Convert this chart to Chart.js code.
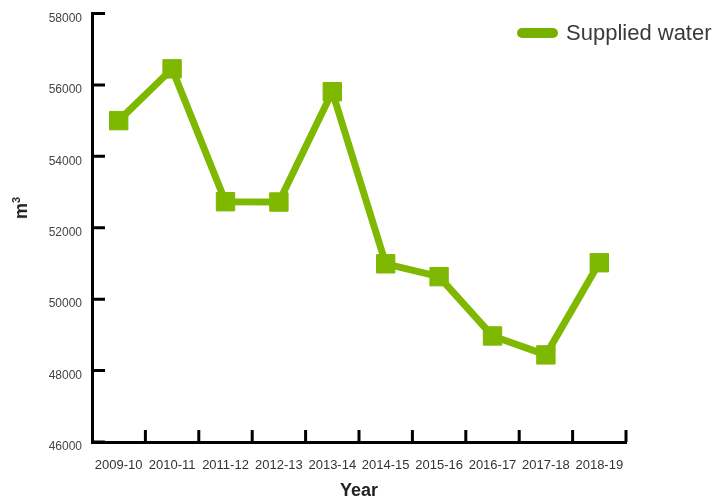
<!DOCTYPE html>
<html>
<head>
<meta charset="utf-8">
<script src="https://cdn.jsdelivr.net/npm/chart.js@4"></script>
<style>
  html, body { margin: 0; padding: 0; background: #fff; }
  #wrap { position: relative; width: 717px; height: 500px; }
  #legend {
    position: absolute; left: 517px; top: 20px;
    font-family: "Liberation Sans", Arial, sans-serif; font-size: 22px; color: #3a3a3a;
    display: flex; align-items: center; white-space: nowrap;
  }
  #legend .swatch {
    display: inline-block; width: 41px; height: 10px; border-radius: 5px;
    background: #78b000; margin-right: 8px;
  }
  #ytitle {
    position: absolute; left: 21px; top: 208px;
    transform: translate(-50%, -50%) rotate(-90deg);
    font-family: "Liberation Sans", Arial, sans-serif; font-size: 18px; font-weight: bold; color: #222;
    white-space: nowrap; line-height: 1;
  }
  #ytitle sup { font-size: 11px; vertical-align: 7px; line-height: 0; }
</style>
</head>
<body>
<div id="wrap">
  <canvas id="chart" width="717" height="500"></canvas>
  <div id="legend"><span class="swatch"></span><span>Supplied water</span></div>
  <div id="ytitle">m<sup>3</sup></div>
</div>
<script>
const years = ["2009-10", "2010-11", "2011-12", "2012-13", "2013-14", "2014-15", "2015-16", "2016-17", "2017-18", "2018-19"];
const suppliedWater = [55000, 56450, 52730, 52720, 55810, 50990, 50630, 48970, 48440, 51020];
const yMin = 46000;
const yMax = 58000;
const yStep = 2000;

const green = "#7fb800";

// inward tick marks, like the original
const inwardTicks = {
  id: "inwardTicks",
  afterDraw(chart) {
    const { ctx, chartArea, scales } = chart;
    const x = scales.x, y = scales.y;
    ctx.save();
    ctx.strokeStyle = "#000";
    ctx.lineWidth = 3;
    ctx.lineCap = "butt";
    ctx.beginPath();
    y.ticks.forEach((t) => {
      const py = y.getPixelForValue(t.value);
      ctx.moveTo(chartArea.left, py);
      ctx.lineTo(chartArea.left + 13, py);
    });
    for (let i = 1; i <= years.length; i++) {
      const px = i < years.length
        ? (x.getPixelForValue(i - 1) + x.getPixelForValue(i)) / 2
        : chartArea.right;
      ctx.moveTo(px, chartArea.bottom);
      ctx.lineTo(px, chartArea.bottom - 12);
    }
    ctx.stroke();
    ctx.restore();
  }
};

new Chart(document.getElementById("chart"), {
  type: "line",
  data: {
    labels: years,
    datasets: [{
      label: "Supplied water",
      data: suppliedWater,
      borderColor: green,
      backgroundColor: green,
      borderWidth: 7,
      tension: 0,
      pointStyle: "rect",
      pointRadius: 13,
      pointHoverRadius: 13,
      pointBorderWidth: 1,
      pointBorderColor: green,
      pointBackgroundColor: green
    }]
  },
  options: {
    responsive: false,
    animation: false,
    layout: { autoPadding: false, padding: { top: 13.5, right: 91, left: 0, bottom: 0 } },
    plugins: {
      legend: { display: false },
      tooltip: { enabled: false }
    },
    scales: {
      x: {
        offset: true,
        grid: { display: false, offset: true, drawTicks: false },
        border: { display: true, color: "#000", width: 3 },
        ticks: {
          color: "#333",
          font: { family: "'Liberation Sans', Arial, sans-serif", size: 13 },
          padding: 16,
          maxRotation: 0,
          autoSkip: false
        },
        title: {
          display: true,
          text: "Year",
          color: "#222",
          font: { family: "'Liberation Sans', Arial, sans-serif", size: 18, weight: "bold", lineHeight: 1.05 },
          padding: { top: 0, bottom: 0 }
        },
        afterFit(scale) {
          scale.height = 58;
          scale.paddingLeft = 0;
          scale.paddingRight = 0;
        }
      },
      y: {
        min: yMin,
        max: yMax,
        grid: { display: false, drawTicks: false },
        border: { display: true, color: "#000", width: 3 },
        ticks: {
          stepSize: yStep,
          color: "#444",
          font: { family: "'Liberation Sans', Arial, sans-serif", size: 12 },
          padding: 10,
          labelOffset: 5,
          callback: (v) => v
        },
        afterFit(scale) {
          scale.width = 92;
          scale.paddingTop = 0;
          scale.paddingBottom = 0;
        }
      }
    }
  },
  plugins: [inwardTicks]
});
</script>
</body>
</html>
